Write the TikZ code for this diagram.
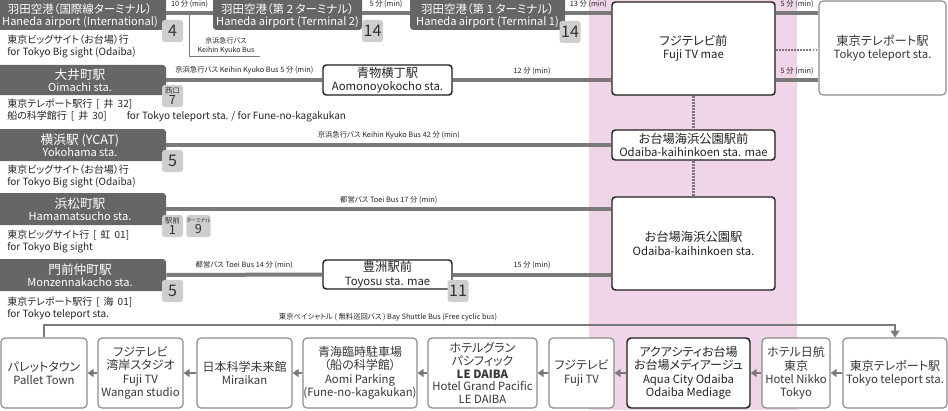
\documentclass[tikz,border=0pt]{standalone}
\usepackage{fontspec}
\setmainfont{Noto Sans CJK JP}[RawFeature=+palt]
\usetikzlibrary{arrows.meta}

\newcommand\stnjp[1]{{\fontsize{9.5}{10}\selectfont #1}}
\newcommand\hndjp[1]{{\fontsize{8.6}{10}\selectfont #1}}
\newcommand\boxjp[1]{{\fontsize{9.2}{10}\selectfont #1}}
\newcommand\botjp[1]{{\fontsize{9}{10}\selectfont #1}}
\newcommand\badgejp[1]{{\fontsize{5.5}{5.5}\selectfont #1}}
\newcommand\topstrut{\rule{0pt}{11.5pt}}
\newcommand\routeno[2]{\hspace{3pt}[\hspace{3pt}#1\hspace{3pt}#2]}

\tikzset{
  sz/.style 2 args={minimum width=#1*0.75pt, minimum height=#2*0.75pt},
  darkstn/.style={fill=stationgray, text=white, rounded corners=2.5pt,
    align=center, inner sep=0pt, font=\fontsize{8.3}{9}\selectfont},
  wstn/.style={draw=edgedark, line width=1.1pt, fill=white,
    rounded corners=2.5pt, align=center, inner sep=0pt, text=textdark,
    font=\fontsize{8.5}{10}\selectfont},
  tstn/.style={draw=edgegray, line width=0.9pt, fill=white,
    rounded corners=3pt, align=center, inner sep=0pt, text=textgray,
    font=\fontsize{8.5}{10}\selectfont},
  botstn/.style={tstn, sz={#1}{70}, font=\fontsize{8.5}{10}\selectfont},
  badge/.style={fill=badgegray, rounded corners=2pt, text=textbadge,
    inner sep=0pt, sz={21}{22}, align=center,
    font=\fontsize{12}{12}\selectfont},
  sbadge/.style={badge, font=\fontsize{9.5}{8.6}\selectfont},
  route/.style={draw=routegray, line width=3pt},
  walk/.style={draw=routegray, line width=1.6pt,
    dash pattern=on 1.4pt off 0.9pt},
  thinline/.style={draw=routegray, line width=0.6pt},
  shuttle/.style={draw=routegray, line width=2.2pt},
  sharrow/.style={draw=routegray, line width=2pt,
    -{Triangle[length=4.5pt,width=6pt]}},
  minlbl/.style={font=\fontsize{5.5}{6.5}\selectfont, text=textdark,
    inner sep=0pt},
  dest/.style={anchor=west, align=left, inner sep=0pt, text=textdark,
    font=\fontsize{7.5}{9}\selectfont}
}

\begin{document}
\begin{tikzpicture}[x=0.75pt,y=-0.75pt]

\definecolor{stationgray}{RGB}{102,102,102}
\definecolor{routegray}{RGB}{122,122,122}
\definecolor{badgegray}{RGB}{206,206,206}
\definecolor{edgegray}{RGB}{140,140,140}
\definecolor{edgedark}{RGB}{30,30,30}
\definecolor{textdark}{RGB}{35,35,35}
\definecolor{textgray}{RGB}{55,55,55}
\definecolor{textbadge}{RGB}{50,50,50}
\definecolor{pinkzone}{RGB}{240,213,232}

\useasboundingbox (0,0) rectangle (948,410);
\fill[pinkzone] (589,0) rectangle (797,410);

\coordinate (walkrow) at (0,50);
\coordinate (lowrow) at (0,80);
\coordinate (shuttlerow) at (0,325);
\coordinate (kkfoot) at (260,56);

\node[darkstn, sz={172}{34}] (hndI) at (80,13)
  {\hndjp{\topstrut{}羽田空港（国際線ターミナル）}\\Haneda airport (International)};
\node[darkstn, sz={149}{34}] (hndT2) at (287.5,13)
  {\hndjp{\topstrut{}羽田空港（第 2 ターミナル）}\\Haneda airport (Terminal 2)};
\node[darkstn, sz={155}{34}] (hndT1) at (487.5,13)
  {\hndjp{\topstrut{}羽田空港（第 1 ターミナル）}\\Haneda airport (Terminal 1)};
\node[wstn, sz={163}{93}] (fujimae) at (693.5,48.5)
  {\boxjp{フジテレビ前}\\Fuji TV mae};
\node[tstn, sz={127}{94}] (telep) at (882.5,48)
  {\boxjp{東京テレポート駅}\\Tokyo teleport sta.};

\node[darkstn, sz={172}{30}] (oima) at (80,80)
  {\stnjp{大井町駅}\\Oimachi sta.};
\node[wstn, sz={129}{30}] (aomo) at (387.5,80)
  {\boxjp{青物横丁駅}\\Aomonoyokocho sta.};

\node[darkstn, sz={172}{32}] (yoko) at (80,145)
  {\stnjp{横浜駅 (YCAT)}\\Yokohama sta.};
\node[wstn, sz={163}{30}] (okmae) at (693.5,145)
  {\boxjp{お台場海浜公園駅前}\\Odaiba-kaihinkoen sta. mae};

\node[darkstn, sz={172}{32}] (hama) at (80,209)
  {\stnjp{浜松町駅}\\Hamamatsucho sta.};
\node[wstn, sz={163}{93}] (okst) at (693.5,243.5)
  {\boxjp{お台場海浜公園駅}\\Odaiba-kaihinkoen sta.};

\node[darkstn, sz={172}{32}] (monz) at (80,275)
  {\stnjp{門前仲町駅}\\Monzennakacho sta.};
\node[wstn, sz={129}{29}] (toyo) at (387.5,274.5)
  {\boxjp{豊洲駅前}\\Toyosu sta. mae};

\node[badge] (bhndI) at (172.5,31) {4};
\node[badge] (bhndT2) at (372.5,31) {14};
\node[badge] (bhndT1) at (570,32) {14};
\node[sbadge] (boima) at (172.5,96) {\badgejp{西口}\\7};
\node[badge] (byoko) at (172.5,161) {5};
\node[sbadge] (bhama1) at (172.5,226) {\badgejp{駅前}\\1};
\node[sbadge] (bhama9) at (198.5,226) {{\fontsize{4}{4}\selectfont ターミナル}\\9};
\node[badge] (bmonz) at (172.5,291) {5};
\node[badge] (btoyo) at (458,291) {11};

\node[dest] (dsthnd) at (7,46)
  {東京ビッグサイト（お台場）行\\for Tokyo Big sight (Odaiba)};
\node[dest] (dstoima) at (7,110.5)
  {東京テレポート駅行\routeno{井}{32}\\船の科学館行\routeno{井}{30}\hspace{15pt}for Tokyo teleport sta. / for Fune-no-kagakukan};
\node[dest] (dstyoko) at (7,176)
  {東京ビッグサイト（お台場）行\\for Tokyo Big sight (Odaiba)};
\node[dest] (dsthama) at (7,242)
  {東京ビッグサイト行\routeno{虹}{01}\\for Tokyo Big sight};
\node[dest] (dstmonz) at (7,308)
  {東京テレポート駅行\routeno{海}{01}\\for Tokyo teleport sta.};

\draw[route] (hndI.east) -- node[minlbl, above=2.5pt] {10 分 (min)} (hndT2.west);
\draw[route] (hndT2.east) -- node[minlbl, above=2.5pt] {5 分 (min)} (hndT1.west);
\draw[route] (hndT1.east) -- node[minlbl, above=2.5pt] {13 分 (min)} (hndT1.east -| fujimae.west);
\draw[route] (fujimae.east |- hndT1.east) -- node[minlbl, above=2.5pt] {5 分 (min)} (telep.west |- hndT1.east);
\draw[route] (fujimae.east |- lowrow) -- node[minlbl, above=2.5pt] {5 分 (min)} (telep.west |- lowrow);
\draw[walk] (fujimae.east |- walkrow) -- (telep.west |- walkrow);

\draw[thinline] (hndI.east -| 189,0) |- (kkfoot);
\node[minlbl, align=center, font=\fontsize{5.3}{6.8}\selectfont] (kklbl) at (226,46)
  {京浜急行バス\\Keihin Kyuko Bus};

\draw[route] (oima.east) -- node[minlbl, above=2.5pt] {京浜急行バス Keihin Kyuko Bus 5 分 (min)} (aomo.west);
\draw[route] (aomo.east) -- node[minlbl, above=2.5pt] {12 分 (min)} (aomo.east -| fujimae.west);
\draw[route] (yoko.east) -- node[minlbl, above=2.5pt] {京浜急行バス Keihin Kyuko Bus 42 分 (min)} (okmae.west);
\draw[route] (hama.east) -- node[minlbl, above=2.5pt] {都営バス Toei Bus 17 分 (min)} (hama.east -| okst.west);
\draw[route] (monz.east) -- node[minlbl, above=2.5pt] {都営バス Toei Bus 14 分 (min)} (toyo.west);
\draw[route] (toyo.east) -- node[minlbl, above=2.5pt] {15 分 (min)} (toyo.east -| okst.west);
\draw[walk] (fujimae.south) -- (okmae.north);
\draw[walk] (okmae.south) -- (okst.north);

\node[botstn=86] (pallet) at (44,373)
  {\botjp{パレットタウン}\\Pallet Town};
\node[botstn=85] (wangan) at (140.5,373)
  {\botjp{フジテレビ}\\\botjp{湾岸スタジオ}\\Fuji TV\\Wangan studio};
\node[botstn=95] (mirai) at (244.5,373)
  {\botjp{日本科学未来館}\\Miraikan};
\node[botstn=114] (aomi) at (360,373)
  {\botjp{青海臨時駐車場}\\\botjp{（船の科学館）}\\Aomi Parking\\(Fune-no-kagakukan)};
\node[botstn=109, font=\fontsize{8.5}{9.4}\selectfont] (hgp) at (482.5,373)
  {\botjp{ホテルグラン}\\\botjp{パシフィック}\\\textbf{LE DAIBA}\\Hotel Grand Pacific\\LE DAIBA};
\node[botstn=65] (fujitv) at (581.5,373)
  {\botjp{フジテレビ}\\Fuji TV};
\node[botstn=123, draw=edgedark, line width=1.1pt, text=textdark] (aqua) at (688.5,373)
  {\botjp{アクアシティお台場}\\\botjp{お台場メディアージュ}\\Aqua City Odaiba\\Odaiba Mediage};
\node[botstn=68] (nikko) at (796,373)
  {\botjp{ホテル日航}\\\botjp{東京}\\Hotel Nikko\\Tokyo};
\node[botstn=104] (telb) at (895,373)
  {\botjp{東京テレポート駅}\\Tokyo teleport sta.};

\draw[shuttle, -{Triangle[length=5pt,width=6.5pt]}] (pallet.north) -- (pallet.north |- shuttlerow) -| (telb.north);
\node[minlbl] (shlbl) at (388,317)
  {東京ベイシャトル ( 無料巡回バス ) Bay Shuttle Bus (Free cyclic bus)};

\draw[sharrow] (telb.west) -- (nikko.east);
\draw[sharrow] (nikko.west) -- (aqua.east);
\draw[sharrow] (aqua.west) -- (fujitv.east);
\draw[sharrow] (fujitv.west) -- (hgp.east);
\draw[sharrow] (hgp.west) -- (aomi.east);
\draw[sharrow] (aomi.west) -- (mirai.east);
\draw[sharrow] (mirai.west) -- (wangan.east);
\draw[sharrow] (wangan.west) -- (pallet.east);

\end{tikzpicture}
\end{document}
